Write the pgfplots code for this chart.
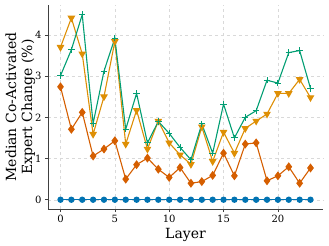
\documentclass[border=0pt]{standalone}
\usepackage{fontspec}
\setmainfont{DejaVu Serif}
\usepackage{pgfplots}
\pgfplotsset{compat=1.18}
\definecolor{cbblue}{HTML}{0173B2}
\definecolor{cborange}{HTML}{DE8F05}
\definecolor{cbgreen}{HTML}{029E73}
\definecolor{cbred}{HTML}{D55E00}
\begin{document}
\begin{tikzpicture}
\begin{axis}[
  at={(0,0)}, anchor=south west,
  scale only axis, width=275bp, height=204bp,
  xmin=-1.15, xmax=24.15, ymin=-0.225, ymax=4.725,
  axis x line*=bottom, axis y line*=left,
  axis line style={draw=black!75, line width=0.8pt},
  xtick={0,5,10,15,20}, ytick={0,1,2,3,4},
  tick align=outside, major tick length=3bp,
  tick style={draw=black!75, line width=0.6pt},
  grid=major, grid style={dashed, draw=black!15, line width=0.4pt},
  /pgf/number format/assume math mode=true,
  ticklabel style={font=\fontsize{10bp}{12bp}\selectfont},
  label style={font=\fontsize{14bp}{17bp}\selectfont},
  xlabel={Layer},
  ylabel={Median Co-Activated\\Expert Change (\%)},
  ylabel style={align=center, font=\fontsize{14bp}{16bp}\selectfont},
  ylabel shift=-7bp,
  xlabel style={yshift=2bp},
  every axis plot/.append style={line width=1.1pt},
]
\addplot[color=cbblue, mark=*, mark size=2.6bp] coordinates {
(0,0)(1,0)(2,0)(3,0)(4,0)(5,0)(6,0)(7,0)(8,0)(9,0)(10,0)(11,0)
(12,0)(13,0)(14,0)(15,0)(16,0)(17,0)(18,0)(19,0)(20,0)(21,0)(22,0)(23,0)};
\addplot[color=cbred, mark=diamond*, mark size=3.6bp] coordinates {
(0,2.74)(1,1.71)(2,2.12)(3,1.06)(4,1.23)(5,1.43)(6,0.50)(7,0.85)(8,1.01)(9,0.74)
(10,0.54)(11,0.78)(12,0.40)(13,0.44)(14,0.59)(15,1.13)(16,0.58)(17,1.35)(18,1.38)
(19,0.46)(20,0.58)(21,0.80)(22,0.40)(23,0.77)};
\addplot[color=cborange, mark=triangle*, mark options={rotate=180}, mark size=3.4bp] coordinates {
(0,3.70)(1,4.41)(2,3.54)(3,1.59)(4,2.50)(5,3.84)(6,1.35)(7,2.17)(8,1.23)(9,1.91)
(10,1.38)(11,1.09)(12,0.86)(13,1.77)(14,0.93)(15,1.64)(16,1.13)(17,1.73)(18,1.91)
(19,2.08)(20,2.58)(21,2.58)(22,2.92)(23,2.48)};
\addplot[color=cbgreen, mark=+, mark size=3.2bp, mark options={line width=0.9pt}] coordinates {
(0,3.01)(1,3.64)(2,4.49)(3,1.85)(4,3.12)(5,3.92)(6,1.71)(7,2.58)(8,1.38)(9,1.90)
(10,1.61)(11,1.27)(12,0.97)(13,1.84)(14,1.13)(15,2.32)(16,1.50)(17,2.00)(18,2.16)
(19,2.90)(20,2.83)(21,3.57)(22,3.62)(23,2.70)};
\end{axis}
\pgfresetboundingbox
\path[use as bounding box] (-48bp,-37bp) rectangle (281bp,209bp);
\end{tikzpicture}
\end{document}
